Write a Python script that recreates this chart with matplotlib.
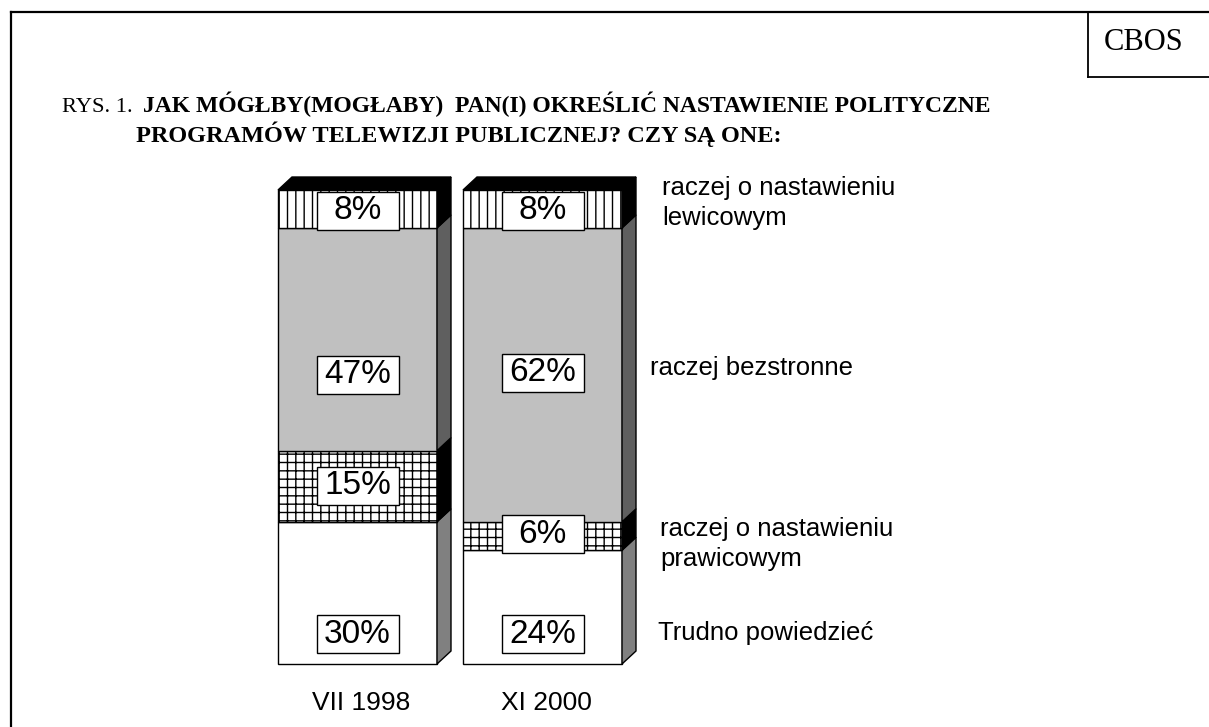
import matplotlib
matplotlib.use('Agg')
import matplotlib.pyplot as plt
from matplotlib.patches import Rectangle, Polygon
from matplotlib.lines import Line2D

# data
periods = ['VII 1998', 'XI 2000']
categories = ['Trudno powiedzieć', 'raczej o nastawieniu\nprawicowym',
              'raczej bezstronne', 'raczej o nastawieniu\nlewicowym']
values_1998 = [30, 15, 47, 8]
values_2000 = [24, 6, 62, 8]

# style per category (bottom -> top)
face_cols = ['white', 'white', '#c0c0c0', 'white']
side_cols = ['#808080', 'black', '#5f5f5f', 'black']
hatches = [None, '++', None, '||']
# layout: where the value boxes and category names sit (in % units)
box_pos = [[6.3, 37.6, 61.0, 95.6], [6.3, 27.4, 61.4, 95.6]]
label_y = [6.5, 25.3, 62.4, 97.3]

W, H = 1209, 727
fig = plt.figure(figsize=(W / 100, H / 100), dpi=100)

def fx(px):
    return px / W

def fy(py):
    return 1 - py / H

# outer frame and CBOS box
fig.add_artist(Line2D([fx(11), fx(11)], [fy(12), 0], color='black', lw=1.6))
fig.add_artist(Line2D([fx(11), 1], [fy(12), fy(12)], color='black', lw=1.6))
fig.add_artist(Line2D([fx(1088), fx(1088)], [fy(12), fy(77)], color='black', lw=1.3))
fig.add_artist(Line2D([fx(1088), 1], [fy(77), fy(77)], color='black', lw=1.3))
fig.text(fx(1144), fy(42), 'CBOS', family='Liberation Serif', fontsize=22,
         ha='center', va='center')

# title
fig.text(fx(62), fy(112), 'RYS. 1.', family='Liberation Serif', fontsize=16.2,
         ha='left', va='baseline')
fig.text(fx(143), fy(112), 'JAK MÓGŁBY(MOGŁABY)  PAN(I) OKREŚLIĆ NASTAWIENIE POLITYCZNE',
         family='Liberation Serif', fontsize=17, fontweight='bold', ha='left', va='baseline')
fig.text(fx(136), fy(142), 'PROGRAMÓW TELEWIZJI PUBLICZNEJ? CZY SĄ ONE:',
         family='Liberation Serif', fontsize=17.5, fontweight='bold', ha='left', va='baseline')

# bars axes: 185 px per x unit, 4.74 px per percent
x0, unit = 357.5, 185.0
xmin, xmax = -0.8, 1.9
ax = fig.add_axes([fx(x0 + xmin * unit), fy(664), (xmax - xmin) * unit / W, 474 / H])
ax.set_xlim(xmin, xmax)
ax.set_ylim(0, 100)
ax.axis('off')

bw = 159 / unit
dx = 14 / unit
dy = 13 / 4.74
box_w = 82 / unit
box_h = 38 / 4.74

plt.rcParams['hatch.linewidth'] = 1.0

for i, vals in enumerate([values_1998, values_2000]):
    left = i - bw / 2
    right = i + bw / 2
    bottom = 0
    for k, v in enumerate(vals):
        top = bottom + v
        ax.add_patch(Rectangle((left, bottom), bw, v, facecolor=face_cols[k],
                               edgecolor='black', lw=1.0, hatch=hatches[k],
                               clip_on=False, zorder=2))
        ax.add_patch(Polygon([(right, bottom), (right + dx, bottom + dy),
                              (right + dx, top + dy), (right, top)],
                             closed=True, facecolor=side_cols[k], edgecolor='black',
                             lw=1.0, clip_on=False, zorder=2))
        mid = box_pos[i][k]
        ax.add_patch(Rectangle((i - box_w / 2, mid - box_h / 2), box_w, box_h,
                               facecolor='white', edgecolor='black', lw=1.0,
                               clip_on=False, zorder=4))
        ax.text(i, mid, f'{v}%', family='Liberation Sans', fontsize=24,
                ha='center', va='center', zorder=5)
        bottom = top
    # top face
    ax.add_patch(Polygon([(left, bottom), (left + dx, bottom + dy),
                          (right + dx, bottom + dy), (right, bottom)],
                         closed=True, facecolor='black', edgecolor='black',
                         lw=1.0, clip_on=False, zorder=3))
    ax.text(i + 0.02, -8.2, periods[i], family='Liberation Sans', fontsize=19,
            ha='center', va='center')

lx = [(658 - x0) / unit, (660 - x0) / unit, (650 - x0) / unit, (662 - x0) / unit]
for k, name in enumerate(categories):
    ax.text(lx[k], label_y[k], name, family='Liberation Sans', fontsize=18.5,
            ha='left', va='center', linespacing=1.3)

fig.savefig('out.png', dpi=100)
